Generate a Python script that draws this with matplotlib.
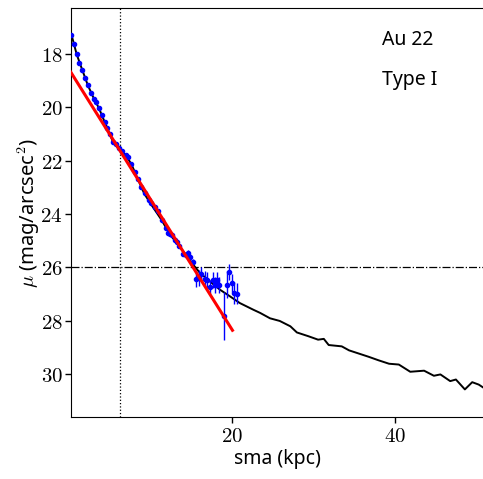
import numpy as np
import matplotlib
matplotlib.use('Agg')
import matplotlib.pyplot as plt
from matplotlib.ticker import FuncFormatter

plt.rcParams['font.family'] = ['Noto Sans', 'DejaVu Sans']
plt.rcParams['mathtext.fontset'] = 'cm'

# full surface brightness profile (black)
prof_sma = [0.32, 1.0, 1.67, 2.36, 3.1, 3.71, 4.42, 5.03, 5.44, 6.26, 7.0, 7.7, 8.5,
            9.3, 10.36, 11.4, 12.4, 13.43, 14.46, 15.3, 16.1, 17.33, 18.56, 19.8,
            21.0, 22.66, 23.5, 24.7, 25.9, 27.2, 28.0, 29.4, 30.6, 31.3, 31.9, 33.5,
            34.4, 35.6, 36.8, 38.0, 39.3, 40.5, 41.9, 43.6, 44.8, 45.6, 46.8, 47.5,
            48.6, 49.5, 50.3, 50.9]
prof_mu = [17.25, 18.03, 18.6, 19.18, 19.68, 20.03, 20.55, 20.99, 21.3, 21.6, 21.8,
           22.13, 22.7, 23.25, 23.75, 24.22, 24.75, 25.15, 25.55, 25.9, 26.2, 26.52,
           26.83, 27.08, 27.33, 27.58, 27.7, 27.9, 28.0, 28.2, 28.43, 28.57, 28.7,
           28.67, 28.9, 28.95, 29.1, 29.22, 29.34, 29.47, 29.6, 29.63, 29.9, 29.86,
           30.05, 30.0, 30.25, 30.19, 30.56, 30.29, 30.38, 30.5]

# fitted data points (blue)
pts_sma = [0.32, 0.64, 1.01, 1.34, 1.67, 2.04, 2.37, 2.73, 3.10, 3.39, 3.72, 4.09,
           4.42, 4.74, 5.03, 5.44, 5.77, 6.18, 6.59, 7.00, 7.29, 7.70, 8.11, 8.52,
           8.93, 9.34, 9.86, 10.15, 10.57, 10.98, 11.5, 11.9, 12.2, 12.5, 12.7, 13.0,
           13.3, 13.6, 14.0, 14.4, 14.7, 14.9, 15.2,
           15.6, 16.0, 16.3, 16.7, 17.0, 17.33, 17.7, 17.9, 18.2, 18.5, 19.05, 19.4,
           19.7, 20.0, 20.3, 20.6]
pts_mu = [17.29, 17.63, 18.03, 18.35, 18.60, 18.90, 19.18, 19.47, 19.68, 19.80, 20.03,
          20.30, 20.55, 20.80, 20.99, 21.30, 21.38, 21.52, 21.63, 21.79, 21.88, 22.13,
          22.42, 22.70, 22.98, 23.22, 23.47, 23.57, 23.72, 23.9, 24.22, 24.53, 24.72,
          24.75, 24.78, 24.97, 25.03, 25.19, 25.49, 25.53, 25.44, 25.61, 25.78,
          26.43, 26.4, 26.24, 26.43, 26.46, 26.73, 26.46, 26.65, 26.46, 26.65, 27.8,
          26.65, 26.18, 26.58, 26.96, 26.98]
pts_err = [0.03] * 26 + [0.05] * 10 + [0.07, 0.07, 0.08, 0.08, 0.1, 0.1, 0.1] + \
          [0.3, 0.3, 0.25, 0.3, 0.3, 0.25, 0.3, 0.3, 0.3, 0.3, 0.9, 0.5, 0.3, 0.35,
           0.4, 0.4]

# exponential disc fit
fit_mu0 = 18.56
fit_slope = 0.487
fit_range = [0.0, 20.1]

r_break = 6.26
mu_lim = 26.0

fig = plt.figure(figsize=(4.83, 4.79), dpi=100)
ax = fig.add_axes([0.147, 0.129, 0.856, 0.854])

xf = np.array(fit_range)
ax.plot(prof_sma, prof_mu, color='black', lw=1.4, zorder=2)
ax.errorbar(pts_sma, pts_mu, yerr=pts_err, fmt='o', color='blue', ms=3,
            elinewidth=1, capsize=0, zorder=3)
ax.plot(xf, fit_mu0 + fit_slope * xf, color='red', lw=2.2, zorder=4)
ax.axvline(r_break, color='black', ls=':', lw=0.9)
ax.axhline(mu_lim, color='black', ls='-.', lw=0.9)

ax.set_xlim(0.3, 51)
ax.set_ylim(31.6, 16.3)
ax.set_xticks([20, 40])
ax.set_yticks([18, 20, 22, 24, 26, 28, 30])
fmt = FuncFormatter(lambda v, p: '$%d$' % v)
ax.xaxis.set_major_formatter(fmt)
ax.yaxis.set_major_formatter(fmt)
ax.tick_params(labelsize=15, length=4, width=1, pad=2)

ax.set_xlabel('sma (kpc)', fontsize=14, labelpad=2)
ax.set_ylabel(r'$\mu$ (mag/arcsec$^2$)', fontsize=14.5, labelpad=-1)

ax.text(0.753, 0.922, 'Au 22', transform=ax.transAxes, fontsize=14, va='center')
ax.text(0.753, 0.824, 'Type I', transform=ax.transAxes, fontsize=14, va='center')

fig.savefig('out.png', dpi=100)
